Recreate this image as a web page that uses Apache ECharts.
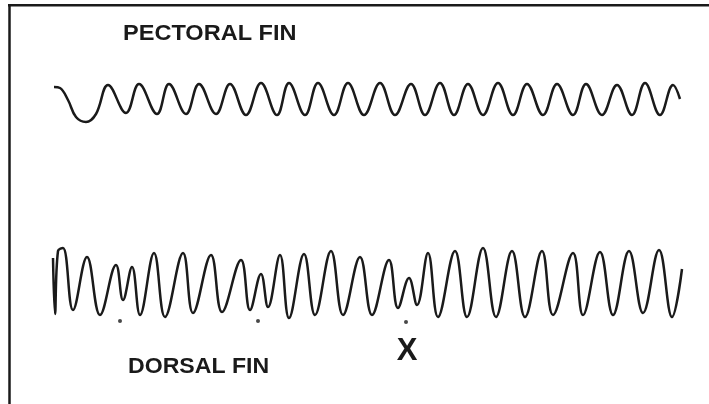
<!DOCTYPE html>
<html>
<head>
<meta charset="utf-8">
<script src="https://cdn.jsdelivr.net/npm/echarts@6/dist/echarts.min.js"></script>
<style>
  html, body { margin: 0; padding: 0; background: #fff; }
  #chart { width: 709px; height: 404px; }
</style>
</head>
<body>
<div id="chart"></div>
<script>
// recording time (arbitrary units along the trace) and deflection
var pectoralTime = [54, 60, 68, 76, 86, 96, 108, 126, 139, 157, 169, 186, 199, 216, 230, 246, 261, 277, 289, 305, 318,
  334, 348, 364, 380, 395, 411, 425, 440, 454, 468, 483, 498, 513, 527, 543, 557, 573, 586, 602, 617,
  632, 645, 660, 673, 680];
var pectoralValue = [13, 12, 0, -17, -22, -14, 15, -13, 16, -14, 16, -14, 16, -14, 16, -15, 17, -15, 17, -15, 17,
  -15, 17, -15, 17, -15, 16, -15, 17, -15, 16, -15, 17, -15, 16, -15, 16, -15, 16, -15, 15,
  -15, 17, -15, 15, 1];

var dorsalTime = [53, 55, 58, 63, 73, 87, 100, 116, 123, 132, 140, 154, 165, 183, 193, 211, 222, 241, 250, 261,
  268, 280, 289, 304, 315, 331, 343, 360, 372, 389, 398, 409, 417, 428, 438, 455, 467, 483, 496, 512,
  525, 542, 553, 573, 583, 600, 613, 629, 643, 659, 672, 682];
var dorsalValue = [22, -34, 29, 32, -30, 23, -35, 15, -20, 13, -35, 27, -37, 27, -33, 25, -32, 20, -30, 6,
  -27, 25, -38, 26, -35, 29, -35, 23, -35, 20, -28, 2, -25, 27, -37, 29, -37, 32, -37, 29,
  -37, 29, -35, 27, -35, 28, -35, 29, -33, 30, -37, 11];

// dots marking the irregular beats
var markTime = [120, 258, 406];
var markValue = [-41, -41, -42];

function pairs(xs, ys) {
  var out = [];
  for (var i = 0; i < xs.length; i++) out.push([xs[i], ys[i]]);
  return out;
}

var ink = '#1a1a1a';
var chart = echarts.init(document.getElementById('chart'));

var option = {
  backgroundColor: '#fff',
  animation: false,
  grid: [
    { left: 0, top: 60, width: 709, height: 80 },
    { left: 0, top: 230, width: 709, height: 100 }
  ],
  xAxis: [
    { gridIndex: 0, type: 'value', min: 0, max: 709, show: false },
    { gridIndex: 1, type: 'value', min: 0, max: 709, show: false }
  ],
  yAxis: [
    { gridIndex: 0, type: 'value', min: -40, max: 40, show: false },
    { gridIndex: 1, type: 'value', min: -50, max: 50, show: false }
  ],
  graphic: [
    { type: 'line', shape: { x1: 8, y1: 5.3, x2: 709, y2: 5.3 }, style: { stroke: ink, lineWidth: 2.5 } },
    { type: 'line', shape: { x1: 9.5, y1: 4, x2: 9.5, y2: 404 }, style: { stroke: ink, lineWidth: 2.5 } },
    { type: 'text', x: 123, y: 34, scaleX: 1.07,
      style: { text: 'PECTORAL FIN', fill: ink, font: 'bold 22px "Liberation Sans", Arial, sans-serif',
               textAlign: 'left', textVerticalAlign: 'middle' } },
    { type: 'text', x: 128, y: 367, scaleX: 1.05,
      style: { text: 'DORSAL FIN', fill: ink, font: 'bold 22px "Liberation Sans", Arial, sans-serif',
               textAlign: 'left', textVerticalAlign: 'middle' } },
    { type: 'text', x: 407, y: 351,
      style: { text: 'X', fill: ink, font: 'bold 31px "Liberation Sans", Arial, sans-serif',
               textAlign: 'center', textVerticalAlign: 'middle' } }
  ],
  series: [
    {
      name: 'Pectoral fin',
      type: 'line',
      xAxisIndex: 0, yAxisIndex: 0,
      data: pairs(pectoralTime, pectoralValue),
      smooth: 0.4,
      showSymbol: false,
      lineStyle: { color: ink, width: 2.5 }
    },
    {
      name: 'Dorsal fin',
      type: 'line',
      xAxisIndex: 1, yAxisIndex: 1,
      data: pairs(dorsalTime, dorsalValue),
      smooth: 0.4,
      showSymbol: false,
      lineStyle: { color: ink, width: 2.5 }
    },
    {
      name: 'Marks',
      type: 'scatter',
      xAxisIndex: 1, yAxisIndex: 1,
      data: pairs(markTime, markValue),
      symbolSize: 4,
      itemStyle: { color: ink }
    }
  ]
};

chart.setOption(option);
</script>
</body>
</html>
